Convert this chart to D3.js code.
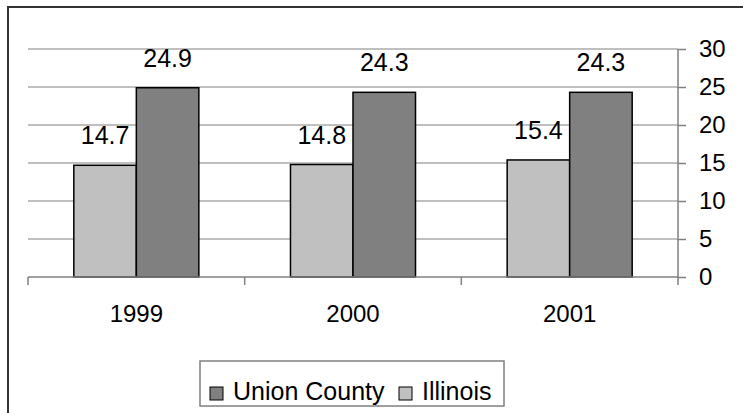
<!DOCTYPE html>
<meta charset="utf-8">
<style>
body { margin: 0; background: #fff; }
text { font-family: Arial, "Liberation Sans", sans-serif; fill: #000; }
.grid line { stroke: #808080; stroke-width: 1px; }
.axis path, .axis line { stroke: #808080; stroke-width: 1.5px; }
.bar { stroke: #000; stroke-width: 1.5px; }
</style>
<svg width="743" height="413"></svg>
<script src="https://cdn.jsdelivr.net/npm/d3@7"></script>
<script>

var years = ["1999", "2000", "2001"],
    seriesNames = ["Illinois", "Union County"],
    illinois = [14.7, 14.8, 15.4],
    unionCounty = [24.9, 24.3, 24.3],
    yTicks = [0, 5, 10, 15, 20, 25, 30],
    legendOrder = ["Union County", "Illinois"];

var colors = {"Illinois": "#c0c0c0", "Union County": "#808080"};

var data = years.map(function(y, i) {
  return {year: y, values: [
    {name: "Illinois", value: illinois[i]},
    {name: "Union County", value: unionCounty[i]}
  ]};
});

var svg = d3.select("svg"),
    plotLeft = 28, plotRight = 678, plotTop = 49, plotBottom = 277;

// outer frame (runs past the right and bottom edges)
svg.append("rect")
    .attr("x", 8).attr("y", 7)
    .attr("width", 800).attr("height", 500)
    .attr("fill", "none")
    .attr("stroke", "#333")
    .attr("stroke-width", 2);

var x0 = d3.scaleBand().domain(years).range([plotLeft, plotRight]),
    x1 = d3.scaleBand().domain(seriesNames).range([0, x0.bandwidth()]).paddingOuter(0.733),
    y = d3.scaleLinear().domain([0, 30]).range([plotBottom, plotTop]);

svg.append("g")
    .attr("class", "grid")
  .selectAll("line")
  .data(yTicks.filter(function(d) { return d > 0; }))
  .enter().append("line")
    .attr("x1", plotLeft).attr("x2", plotRight)
    .attr("y1", function(d) { return y(d); })
    .attr("y2", function(d) { return y(d); });

var group = svg.selectAll(".year")
  .data(data)
  .enter().append("g")
    .attr("class", "year")
    .attr("transform", function(d) { return "translate(" + x0(d.year) + ",0)"; });

group.selectAll("rect")
  .data(function(d) { return d.values; })
  .enter().append("rect")
    .attr("class", "bar")
    .attr("x", function(d) { return x1(d.name); })
    .attr("width", x1.bandwidth())
    .attr("y", function(d) { return y(d.value); })
    .attr("height", function(d) { return y(0) - y(d.value); })
    .attr("fill", function(d) { return colors[d.name]; });

group.selectAll(".label")
  .data(function(d) { return d.values; })
  .enter().append("text")
    .attr("class", "label")
    .attr("x", function(d) { return x1(d.name) + x1.bandwidth() / 2; })
    .attr("y", function(d) { return y(d.value) - 21; })
    .attr("text-anchor", "middle")
    .style("font-size", "25px")
    .text(function(d) { return d.value.toFixed(1); });

// x axis with ticks between categories
var xAxis = svg.append("g").attr("class", "axis");
xAxis.append("line")
    .attr("x1", plotLeft).attr("x2", plotRight)
    .attr("y1", plotBottom).attr("y2", plotBottom);
xAxis.selectAll(".tick")
  .data(years.map(function(d) { return x0(d); }).concat([plotRight]))
  .enter().append("line")
    .attr("x1", function(d) { return d; }).attr("x2", function(d) { return d; })
    .attr("y1", plotBottom).attr("y2", plotBottom + 8);
xAxis.selectAll("text")
  .data(years)
  .enter().append("text")
    .attr("x", function(d) { return x0(d) + x0.bandwidth() / 2; })
    .attr("y", 322)
    .attr("text-anchor", "middle")
    .style("font-size", "24px")
    .text(function(d) { return d; });

// y axis on the right
svg.append("g")
    .attr("class", "axis")
    .attr("transform", "translate(" + plotRight + ",0)")
    .call(d3.axisRight(y).tickValues(yTicks).tickSize(8).tickPadding(13))
    .call(function(g) {
      g.select(".domain").attr("d", "M0," + plotTop + "V" + plotBottom);
      g.selectAll("text").style("font-size", "24px").attr("fill", "#000");
    });

// legend
var legend = svg.append("g");
legend.append("rect")
    .attr("x", 200).attr("y", 361)
    .attr("width", 304).attr("height", 45)
    .attr("fill", "#fff")
    .attr("stroke", "#808080")
    .attr("stroke-width", 1.5);

var legendX = [210, 399];
var item = legend.selectAll(".item")
  .data(legendOrder)
  .enter().append("g")
    .attr("transform", function(d, i) { return "translate(" + legendX[i] + ",0)"; });
item.append("rect")
    .attr("x", 0).attr("y", 387)
    .attr("width", 13).attr("height", 13)
    .attr("fill", function(d) { return colors[d]; })
    .attr("stroke", "#000")
    .attr("stroke-width", 1);
item.append("text")
    .attr("x", 23).attr("y", 400)
    .style("font-size", "25px")
    .text(function(d) { return d; });

</script>
